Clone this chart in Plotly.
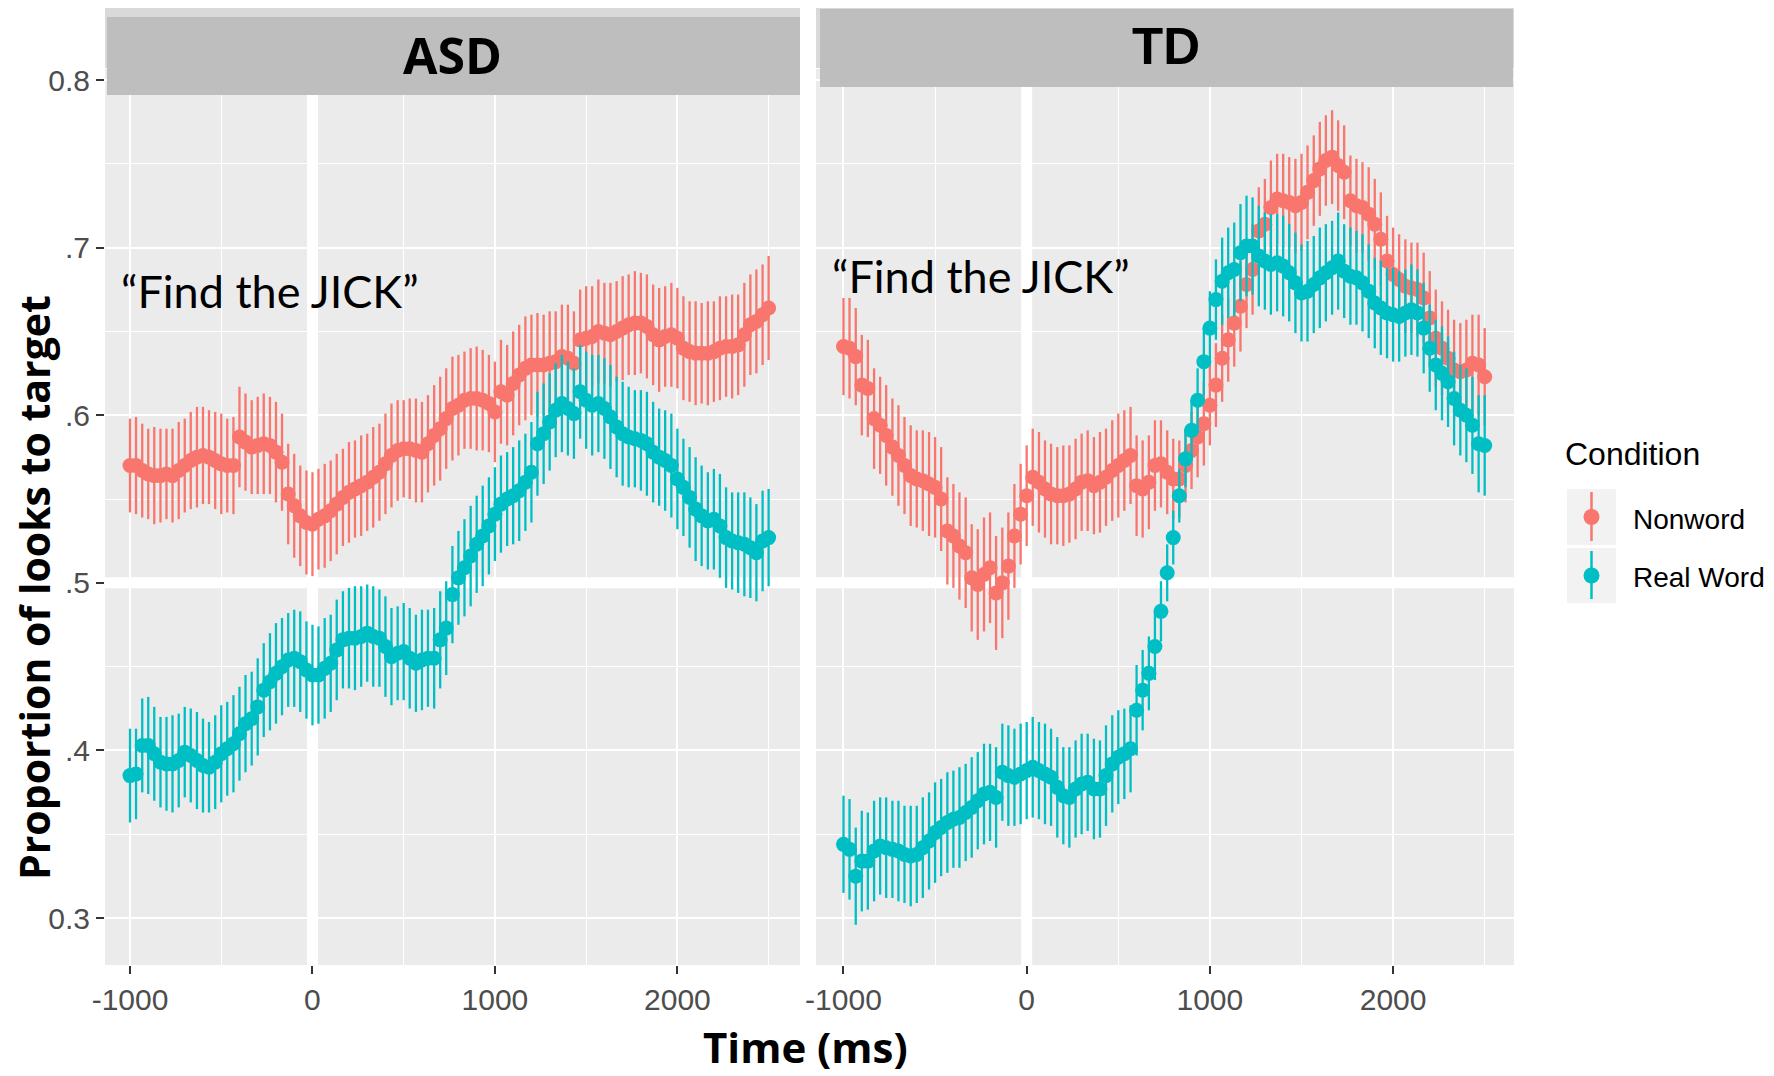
import plotly.graph_objects as go

# ---------------- data ----------------
TIME_MS = [-1000, -967, -933, -900, -867, -833, -800, -767, -733, -700,
           -667, -633, -600, -567, -533, -500, -467, -433, -400, -367,
           -333, -300, -267, -233, -200, -167, -133, -100, -67, -33,
           0, 33, 67, 100, 133, 167, 200, 233, 267, 300,
           333, 367, 400, 433, 467, 500, 533, 567, 600, 633,
           667, 700, 733, 767, 800, 833, 867, 900, 933, 967,
           1000, 1033, 1067, 1100, 1133, 1167, 1200, 1233, 1267, 1300,
           1333, 1367, 1400, 1433, 1467, 1500, 1533, 1567, 1600, 1633,
           1667, 1700, 1733, 1767, 1800, 1833, 1867, 1900, 1933, 1967,
           2000, 2033, 2067, 2100, 2133, 2167, 2200, 2233, 2267, 2300,
           2333, 2367, 2400, 2433, 2467, 2500]

ASD_NONWORD = [0.570, 0.570, 0.567, 0.565, 0.564, 0.564, 0.565, 0.564, 0.567, 0.570,
               0.573, 0.575, 0.576, 0.575, 0.573, 0.571, 0.570, 0.570, 0.587, 0.584,
               0.581, 0.582, 0.583, 0.582, 0.578, 0.572, 0.553, 0.546, 0.540, 0.536,
               0.535, 0.538, 0.540, 0.543, 0.547, 0.551, 0.554, 0.556, 0.558, 0.560,
               0.563, 0.566, 0.571, 0.576, 0.579, 0.580, 0.580, 0.579, 0.578, 0.583,
               0.588, 0.592, 0.598, 0.604, 0.606, 0.609, 0.610, 0.610, 0.609, 0.607,
               0.602, 0.614, 0.612, 0.619, 0.624, 0.628, 0.630, 0.630, 0.630, 0.631,
               0.632, 0.635, 0.634, 0.631, 0.645, 0.646, 0.647, 0.650, 0.649, 0.648,
               0.650, 0.652, 0.654, 0.655, 0.655, 0.653, 0.648, 0.645, 0.647, 0.648,
               0.646, 0.640, 0.638, 0.637, 0.637, 0.637, 0.638, 0.640, 0.641, 0.641,
               0.642, 0.648, 0.654, 0.656, 0.660, 0.664]
ASD_NONWORD_ERR = [0.028, 0.029, 0.028, 0.027, 0.029, 0.028, 0.027, 0.028, 0.029, 0.028,
                   0.029, 0.030, 0.029, 0.028, 0.029, 0.030, 0.028, 0.029, 0.030, 0.029,
                   0.028, 0.029, 0.030, 0.029, 0.030, 0.029, 0.030, 0.031, 0.030, 0.031,
                   0.031, 0.030, 0.031, 0.030, 0.030, 0.029, 0.030, 0.029, 0.030, 0.029,
                   0.030, 0.029, 0.030, 0.031, 0.030, 0.029, 0.030, 0.031, 0.030, 0.029,
                   0.030, 0.031, 0.030, 0.031, 0.030, 0.029, 0.030, 0.031, 0.030, 0.029,
                   0.030, 0.031, 0.030, 0.031, 0.030, 0.031, 0.030, 0.031, 0.030, 0.031,
                   0.030, 0.031, 0.032, 0.031, 0.030, 0.031, 0.030, 0.031, 0.030, 0.031,
                   0.030, 0.031, 0.030, 0.031, 0.030, 0.031, 0.030, 0.031, 0.030, 0.031,
                   0.030, 0.031, 0.030, 0.031, 0.030, 0.031, 0.030, 0.031, 0.030, 0.031,
                   0.030, 0.031, 0.030, 0.031, 0.030, 0.031]

ASD_REALWORD = [0.385, 0.386, 0.403, 0.403, 0.398, 0.393, 0.392, 0.392, 0.394, 0.399,
                0.397, 0.394, 0.391, 0.390, 0.393, 0.398, 0.401, 0.404, 0.410, 0.416,
                0.419, 0.426, 0.436, 0.441, 0.446, 0.450, 0.454, 0.455, 0.453, 0.448,
                0.445, 0.445, 0.449, 0.452, 0.460, 0.466, 0.467, 0.467, 0.468, 0.470,
                0.468, 0.467, 0.462, 0.456, 0.458, 0.459, 0.455, 0.452, 0.454, 0.455,
                0.455, 0.466, 0.473, 0.493, 0.503, 0.509, 0.516, 0.523, 0.528, 0.534,
                0.541, 0.547, 0.550, 0.552, 0.555, 0.560, 0.566, 0.583, 0.589, 0.596,
                0.603, 0.607, 0.604, 0.601, 0.614, 0.609, 0.606, 0.607, 0.604, 0.599,
                0.593, 0.589, 0.587, 0.586, 0.585, 0.583, 0.578, 0.575, 0.573, 0.570,
                0.562, 0.557, 0.551, 0.544, 0.540, 0.537, 0.538, 0.534, 0.527, 0.525,
                0.524, 0.523, 0.521, 0.518, 0.525, 0.527]
ASD_REALWORD_ERR = [0.028, 0.027, 0.028, 0.029, 0.028, 0.027, 0.028, 0.029, 0.028, 0.027,
                    0.028, 0.029, 0.028, 0.027, 0.028, 0.029, 0.028, 0.029, 0.028, 0.029,
                    0.028, 0.029, 0.028, 0.029, 0.030, 0.029, 0.028, 0.029, 0.030, 0.029,
                    0.030, 0.029, 0.030, 0.029, 0.030, 0.029, 0.030, 0.031, 0.030, 0.029,
                    0.030, 0.029, 0.030, 0.029, 0.028, 0.029, 0.030, 0.029, 0.030, 0.029,
                    0.030, 0.029, 0.028, 0.029, 0.028, 0.029, 0.030, 0.029, 0.030, 0.029,
                    0.028, 0.029, 0.028, 0.029, 0.030, 0.029, 0.030, 0.031, 0.030, 0.029,
                    0.028, 0.029, 0.028, 0.027, 0.028, 0.029, 0.030, 0.029, 0.030, 0.031,
                    0.030, 0.031, 0.030, 0.029, 0.030, 0.031, 0.030, 0.029, 0.030, 0.031,
                    0.030, 0.029, 0.030, 0.031, 0.030, 0.029, 0.030, 0.031, 0.030, 0.029,
                    0.030, 0.031, 0.030, 0.029, 0.030, 0.029]

TD_NONWORD = [0.641, 0.640, 0.635, 0.618, 0.616, 0.598, 0.594, 0.588, 0.581, 0.576,
              0.570, 0.564, 0.562, 0.561, 0.559, 0.557, 0.550, 0.531, 0.528, 0.522,
              0.518, 0.503, 0.499, 0.505, 0.509, 0.494, 0.500, 0.510, 0.528, 0.541,
              0.552, 0.563, 0.560, 0.556, 0.553, 0.552, 0.552, 0.553, 0.556, 0.560,
              0.561, 0.558, 0.560, 0.563, 0.567, 0.570, 0.573, 0.576, 0.558, 0.556,
              0.560, 0.570, 0.571, 0.566, 0.562, 0.562, 0.570, 0.579, 0.587, 0.595,
              0.606, 0.618, 0.634, 0.645, 0.655, 0.665, 0.678, 0.687, 0.710, 0.714,
              0.724, 0.729, 0.728, 0.727, 0.725, 0.727, 0.733, 0.740, 0.747, 0.752,
              0.754, 0.749, 0.745, 0.728, 0.725, 0.724, 0.720, 0.714, 0.705, 0.692,
              0.684, 0.681, 0.677, 0.676, 0.675, 0.670, 0.658, 0.646, 0.640, 0.634,
              0.627, 0.626, 0.627, 0.631, 0.630, 0.623]
TD_NONWORD_ERR = [0.029, 0.030, 0.029, 0.030, 0.029, 0.030, 0.029, 0.030, 0.029, 0.030,
                  0.029, 0.030, 0.029, 0.030, 0.031, 0.030, 0.031, 0.032, 0.031, 0.032,
                  0.033, 0.032, 0.033, 0.034, 0.033, 0.034, 0.033, 0.032, 0.031, 0.030,
                  0.030, 0.029, 0.030, 0.029, 0.030, 0.029, 0.030, 0.029, 0.030, 0.029,
                  0.030, 0.029, 0.030, 0.029, 0.030, 0.031, 0.030, 0.029, 0.030, 0.029,
                  0.028, 0.027, 0.026, 0.025, 0.024, 0.023, 0.022, 0.023, 0.024, 0.025,
                  0.024, 0.025, 0.026, 0.025, 0.026, 0.027, 0.026, 0.027, 0.026, 0.027,
                  0.028, 0.027, 0.028, 0.027, 0.028, 0.029, 0.028, 0.027, 0.028, 0.027,
                  0.028, 0.027, 0.028, 0.027, 0.028, 0.027, 0.028, 0.027, 0.028, 0.027,
                  0.028, 0.027, 0.028, 0.027, 0.028, 0.027, 0.028, 0.029, 0.028, 0.029,
                  0.030, 0.029, 0.030, 0.029, 0.030, 0.029]

TD_REALWORD = [0.344, 0.341, 0.325, 0.334, 0.334, 0.340, 0.343, 0.342, 0.341, 0.340,
               0.338, 0.337, 0.338, 0.342, 0.346, 0.351, 0.354, 0.357, 0.359, 0.360,
               0.363, 0.366, 0.370, 0.374, 0.375, 0.372, 0.387, 0.385, 0.384, 0.386,
               0.388, 0.390, 0.388, 0.386, 0.384, 0.378, 0.373, 0.372, 0.377, 0.380,
               0.381, 0.377, 0.377, 0.385, 0.392, 0.396, 0.398, 0.401, 0.424, 0.436,
               0.446, 0.462, 0.483, 0.506, 0.527, 0.552, 0.574, 0.591, 0.609, 0.632,
               0.652, 0.669, 0.680, 0.685, 0.687, 0.697, 0.701, 0.701, 0.695, 0.692,
               0.690, 0.691, 0.689, 0.685, 0.679, 0.673, 0.674, 0.678, 0.682, 0.685,
               0.688, 0.692, 0.686, 0.683, 0.682, 0.679, 0.674, 0.667, 0.664, 0.661,
               0.660, 0.659, 0.661, 0.663, 0.661, 0.652, 0.640, 0.630, 0.625, 0.620,
               0.610, 0.603, 0.600, 0.594, 0.583, 0.582]
TD_REALWORD_ERR = [0.029, 0.030, 0.029, 0.030, 0.029, 0.030, 0.029, 0.030, 0.029, 0.030,
                   0.029, 0.030, 0.029, 0.030, 0.029, 0.030, 0.029, 0.030, 0.029, 0.030,
                   0.029, 0.030, 0.029, 0.030, 0.029, 0.030, 0.029, 0.030, 0.029, 0.030,
                   0.029, 0.030, 0.029, 0.030, 0.029, 0.030, 0.029, 0.030, 0.029, 0.030,
                   0.029, 0.030, 0.029, 0.030, 0.029, 0.028, 0.027, 0.026, 0.027, 0.024,
                   0.022, 0.020, 0.018, 0.017, 0.016, 0.016, 0.017, 0.018, 0.019, 0.020,
                   0.022, 0.024, 0.026, 0.027, 0.028, 0.029, 0.030, 0.029, 0.030, 0.029,
                   0.030, 0.029, 0.030, 0.029, 0.030, 0.029, 0.030, 0.029, 0.030, 0.029,
                   0.028, 0.029, 0.028, 0.029, 0.028, 0.029, 0.028, 0.027, 0.028, 0.027,
                   0.028, 0.027, 0.026, 0.027, 0.026, 0.027, 0.026, 0.027, 0.028, 0.027,
                   0.028, 0.027, 0.028, 0.029, 0.029, 0.030]

PANELS = ["ASD", "TD"]
CONDITIONS = ["Nonword", "Real Word"]
X_TICKS = [-1000, 0, 1000, 2000]
X_TICK_TEXT = ["-1000", "0", "1000", "2000"]
X_MINOR = [-500, 500, 1500, 2500]
Y_TICKS = [0.3, 0.4, 0.5, 0.6, 0.7, 0.8]
Y_TICK_TEXT = ["0.3", ".4", ".5", ".6", ".7", "0.8"]
Y_MINOR = [0.35, 0.45, 0.55, 0.65, 0.75]
ANNOT_TEXT = "\u201cFind the JICK\u201d"

# ---------------- style ----------------
W, H = 1774, 1076
RED = "#F8766D"
TEAL = "#00BFC4"
PANEL_BG = "#EBEBEB"
TICK_FONT = dict(family="Liberation Sans, Arial", size=30, color="#4D4D4D")
TITLE_FONT = "Open Sans"


def px_x(p):
    return p / W


def px_y(p):
    return 1 - p / H


fig = go.Figure()

series = {
    "ASD": [(ASD_NONWORD, ASD_NONWORD_ERR, RED), (ASD_REALWORD, ASD_REALWORD_ERR, TEAL)],
    "TD": [(TD_NONWORD, TD_NONWORD_ERR, RED), (TD_REALWORD, TD_REALWORD_ERR, TEAL)],
}
axes = {"ASD": ("x", "y"), "TD": ("x2", "y2")}

for panel in PANELS:
    xa, ya = axes[panel]
    for (vals, errs, col), cond in zip(series[panel], CONDITIONS):
        fig.add_trace(go.Scatter(
            x=TIME_MS, y=vals, mode="markers", name=cond, xaxis=xa, yaxis=ya,
            marker=dict(color=col, size=15, line=dict(width=0)),
            error_y=dict(type="data", array=errs, visible=True, width=0,
                         thickness=2.3, color=col),
            showlegend=False,
        ))

X_DOM_ASD = [px_x(105), px_x(800)]
X_DOM_TD = [px_x(816), px_x(1514)]
Y_DOM = [px_y(965), px_y(69)]

common_x = dict(
    tickmode="array", tickvals=X_TICKS, ticktext=X_TICK_TEXT, tickfont=TICK_FONT,
    ticks="outside", ticklen=8, tickwidth=2, tickcolor="#333333",
    showgrid=True, gridcolor="white", gridwidth=2.2, zeroline=False, showline=False,
    minor=dict(tickmode="array", tickvals=X_MINOR, showgrid=True, gridcolor="white",
               gridwidth=1.3, ticks=""),
    ticklabelstandoff=0, automargin=False,
)
common_y = dict(
    range=[0.272, 0.8066], tickmode="array", tickvals=Y_TICKS, ticktext=Y_TICK_TEXT,
    showgrid=True, gridcolor="white", gridwidth=2.2, zeroline=False, showline=False,
    minor=dict(tickmode="array", tickvals=Y_MINOR, showgrid=True, gridcolor="white",
               gridwidth=1.3, ticks=""),
    domain=Y_DOM, automargin=False,
)

fig.update_layout(
    width=W, height=H, autosize=False,
    margin=dict(l=0, r=0, t=0, b=0, pad=0),
    paper_bgcolor="white", plot_bgcolor=PANEL_BG,
    xaxis=dict(domain=X_DOM_ASD, range=[-1137, 2672], anchor="y", **common_x),
    xaxis2=dict(domain=X_DOM_TD, range=[-1150, 2660], anchor="y2", **common_x),
    yaxis=dict(anchor="x", ticks="outside", ticklen=8, tickwidth=2, tickcolor="#333333",
               tickfont=TICK_FONT, ticklabelstandoff=0, **common_y),
    yaxis2=dict(anchor="x2", matches="y", showticklabels=False, ticks="", **common_y),
    showlegend=False,
)

shapes = []
# thick white reference lines at t = 0 and p = .5
for xa, ya in [("x", "y"), ("x2", "y2")]:
    shapes.append(dict(type="line", xref=xa, yref=f"{ya} domain", x0=0, x1=0, y0=0, y1=1,
                       line=dict(color="white", width=11), layer="below"))
    shapes.append(dict(type="line", xref=f"{xa} domain", yref=ya, x0=0, x1=1, y0=0.5, y1=0.5,
                       line=dict(color="white", width=11), layer="below"))

# original facet strips (light) and overlaid dark strip boxes
for (l, r) in [(105, 800), (816, 1514)]:
    shapes.append(dict(type="rect", xref="paper", yref="paper",
                       x0=px_x(l), x1=px_x(r), y0=px_y(68), y1=px_y(8),
                       fillcolor="#D9D9D9", line=dict(width=0), layer="above"))
shapes.append(dict(type="rect", xref="paper", yref="paper",
                   x0=px_x(107), x1=px_x(800), y0=px_y(95), y1=px_y(17),
                   fillcolor="#BEBEBE", line=dict(width=0), layer="above"))
shapes.append(dict(type="rect", xref="paper", yref="paper",
                   x0=px_x(820), x1=px_x(1513), y0=px_y(87), y1=px_y(9),
                   fillcolor="#BEBEBE", line=dict(width=0), layer="above"))

# legend keys
for (top, bot, col) in [(489, 545, RED), (548, 603, TEAL)]:
    cy = (top + bot) / 2
    shapes.append(dict(type="rect", xref="paper", yref="paper",
                       x0=px_x(1567), x1=px_x(1616), y0=px_y(bot), y1=px_y(top),
                       fillcolor="#F2F2F2", line=dict(width=0)))
    shapes.append(dict(type="line", xref="paper", yref="paper",
                       x0=px_x(1591.5), x1=px_x(1591.5), y0=px_y(bot - 4), y1=px_y(top + 3),
                       line=dict(color=col, width=2.5)))
    shapes.append(dict(type="circle", xref="paper", yref="paper",
                       x0=px_x(1591.5 - 8), x1=px_x(1591.5 + 8), y0=px_y(cy + 8), y1=px_y(cy - 8),
                       fillcolor=col, line=dict(width=0)))

fig.update_layout(shapes=shapes)

ann = []
ann.append(dict(text="<b>ASD</b>", x=px_x(452), y=px_y(55), xref="paper", yref="paper",
                showarrow=False, font=dict(family=TITLE_FONT, size=50, color="black"),
                xanchor="center", yanchor="middle"))
ann.append(dict(text="<b>TD</b>", x=px_x(1166), y=px_y(47), xref="paper", yref="paper",
                showarrow=False, font=dict(family="Liberation Sans, Arial", size=51, color="black"),
                xanchor="center", yanchor="middle"))
ann.append(dict(text=ANNOT_TEXT, x=px_x(119), y=px_y(291), xref="paper", yref="paper",
                showarrow=False, font=dict(family="Lato", size=45, color="black"),
                xanchor="left", yanchor="middle"))
ann.append(dict(text=ANNOT_TEXT, x=px_x(830), y=px_y(276), xref="paper", yref="paper",
                showarrow=False, font=dict(family="Lato", size=45, color="black"),
                xanchor="left", yanchor="middle"))
ann.append(dict(text="<b>Time (ms)</b>", x=px_x(805), y=px_y(1046), xref="paper", yref="paper",
                showarrow=False, font=dict(family=TITLE_FONT, size=42, color="black"),
                xanchor="center", yanchor="middle"))
ann.append(dict(text="<b>Proportion of looks to target</b>", x=px_x(34), y=px_y(588),
                xref="paper", yref="paper", showarrow=False, textangle=-90,
                font=dict(family=TITLE_FONT, size=41, color="black"),
                xanchor="center", yanchor="middle"))
ann.append(dict(text="Condition", x=px_x(1563), y=px_y(454), xref="paper", yref="paper",
                showarrow=False, font=dict(family="Liberation Sans, Arial", size=32, color="black"),
                xanchor="left", yanchor="middle"))
for cond, cy in zip(CONDITIONS, [519, 577]):
    ann.append(dict(text=cond, x=px_x(1631), y=px_y(cy), xref="paper", yref="paper",
                    showarrow=False, font=dict(family="Liberation Sans, Arial", size=28, color="black"),
                    xanchor="left", yanchor="middle"))
fig.update_layout(annotations=ann)

fig.write_html("out.html", config={"displayModeBar": False},
               post_script="document.body.style.margin='0px';document.body.style.overflow='hidden';")
